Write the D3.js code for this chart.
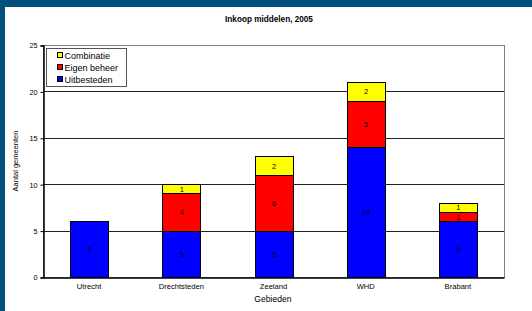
<!DOCTYPE html>
<html>
<head>
<meta charset="utf-8">
<script src="https://cdn.jsdelivr.net/npm/d3@7"></script>
<style>
  body { margin: 0; padding: 0; background: #ffffff; }
  svg { display: block; }
</style>
</head>
<body>
<script>
var width = 532;
var height = 311;

// data
var gebieden = ["Utrecht", "Drechtsteden", "Zeeland", "WHD", "Brabant"];
var uitbesteden = [6, 5, 5, 14, 6];
var eigenBeheer = [0, 4, 6, 5, 1];
var combinatie = [0, 1, 2, 2, 1];
var seriesNames = ["Uitbesteden", "Eigen beheer", "Combinatie"];
var seriesColors = ["#0000ff", "#ff0000", "#ffff00"];
var yTicks = [0, 5, 10, 15, 20, 25];

var font = "Liberation Sans, Arial, sans-serif";

var svg = d3.select("body").append("svg")
    .attr("width", width)
    .attr("height", height);

// frame
svg.append("rect")
    .attr("x", 0).attr("y", 0)
    .attr("width", width).attr("height", height)
    .attr("fill", "#02507e");
svg.append("rect")
    .attr("x", 5).attr("y", 7)
    .attr("width", width - 5).attr("height", height - 7)
    .attr("fill", "#ffffff");

var plotLeft = 43, plotRight = 504, plotTop = 45, plotBottom = 277;

var x = d3.scaleBand()
    .domain(gebieden)
    .range([plotLeft, plotRight])
    .paddingInner(0.59)
    .paddingOuter(0.295);

var y = d3.scaleLinear()
    .domain([0, 25])
    .range([plotBottom, plotTop]);

// title
svg.append("text")
    .attr("x", 269)
    .attr("y", 22)
    .attr("text-anchor", "middle")
    .attr("font-family", font)
    .attr("font-size", 8.2)
    .attr("font-weight", "bold")
    .attr("fill", "#000")
    .text("Inkoop middelen, 2005");

// plot border (top/right)
svg.append("rect")
    .attr("x", plotLeft + 0.5).attr("y", plotTop + 0.5)
    .attr("width", plotRight - plotLeft).attr("height", plotBottom - plotTop)
    .attr("fill", "none")
    .attr("stroke", "#808080")
    .attr("stroke-width", 1);

// gridlines
svg.append("g").selectAll("line")
    .data(yTicks.filter(function (d) { return d > 0 && d < 25; }))
    .enter().append("line")
    .attr("x1", plotLeft)
    .attr("x2", plotRight)
    .attr("y1", function (d) { return Math.round(y(d)) + 0.5; })
    .attr("y2", function (d) { return Math.round(y(d)) + 0.5; })
    .attr("stroke", "#222")
    .attr("stroke-width", 1);

// stacked bars
var rows = gebieden.map(function (g, i) {
    return { gebied: g, Uitbesteden: uitbesteden[i], "Eigen beheer": eigenBeheer[i], Combinatie: combinatie[i] };
});
var stack = d3.stack().keys(seriesNames)(rows);

var layers = svg.append("g").selectAll("g")
    .data(stack)
    .enter().append("g")
    .attr("fill", function (d, i) { return seriesColors[i]; });

layers.selectAll("rect")
    .data(function (d) { return d.filter(function (s) { return s[1] - s[0] > 0; }); })
    .enter().append("rect")
    .attr("x", function (d) { return Math.round(x(d.data.gebied)) + 0.5; })
    .attr("y", function (d) { return Math.round(y(d[1])) + 0.5; })
    .attr("width", Math.round(x.bandwidth()))
    .attr("height", function (d) { return Math.round(y(d[0])) - Math.round(y(d[1])); })
    .attr("stroke", "#000")
    .attr("stroke-width", 1);

layers.selectAll("text")
    .data(function (d) { return d.filter(function (s) { return s[1] - s[0] > 0; }); })
    .enter().append("text")
    .attr("x", function (d) { return x(d.data.gebied) + x.bandwidth() / 2 + 0.5; })
    .attr("y", function (d) { return (y(d[0]) + y(d[1])) / 2 + 3; })
    .attr("text-anchor", "middle")
    .attr("font-family", font)
    .attr("font-size", 7.5)
    .attr("fill", "#000")
    .text(function (d) { return d[1] - d[0]; });

// y axis
var yAxis = svg.append("g")
    .attr("transform", "translate(" + (plotLeft + 0.5) + ",0.5)")
    .call(d3.axisLeft(y).tickValues(yTicks).tickSize(3).tickPadding(3));
yAxis.select(".domain").attr("stroke", "#000").attr("stroke-width", 1.5);
yAxis.selectAll(".tick line").attr("stroke", "#000");
yAxis.selectAll("text")
    .attr("font-family", font)
    .attr("font-size", 7.3)
    .attr("fill", "#000");

// x axis
var xAxis = svg.append("g")
    .attr("transform", "translate(0," + (plotBottom + 0.5) + ")")
    .call(d3.axisBottom(x).tickSize(0).tickPadding(6));
xAxis.select(".domain").attr("stroke", "#000").attr("stroke-width", 1.5);
xAxis.selectAll("text")
    .attr("font-family", font)
    .attr("font-size", 7.6)
    .attr("fill", "#000");

// axis titles
svg.append("text")
    .attr("transform", "translate(18," + ((plotTop + plotBottom) / 2) + ") rotate(-90)")
    .attr("text-anchor", "middle")
    .attr("font-family", font)
    .attr("font-size", 7.5)
    .attr("fill", "#000")
    .text("Aantal gemeenten");

svg.append("text")
    .attr("x", 273)
    .attr("y", 302)
    .attr("text-anchor", "middle")
    .attr("font-family", font)
    .attr("font-size", 8.6)
    .attr("fill", "#000")
    .text("Gebieden");

// legend
var legend = svg.append("g");
legend.append("rect")
    .attr("x", 46.5).attr("y", 48.5)
    .attr("width", 80).attr("height", 38)
    .attr("fill", "#fff")
    .attr("stroke", "#555")
    .attr("stroke-width", 1);

var legendOrder = [2, 1, 0];
legendOrder.forEach(function (k, i) {
    legend.append("rect")
        .attr("x", 57.5)
        .attr("y", 52.5 + i * 12)
        .attr("width", 5).attr("height", 5)
        .attr("fill", seriesColors[k])
        .attr("stroke", "#000")
        .attr("stroke-width", 1);
    legend.append("text")
        .attr("x", 64.5)
        .attr("y", 58.5 + i * 12)
        .attr("font-family", font)
        .attr("font-size", 9)
        .attr("fill", "#000")
        .text(seriesNames[k]);
});
</script>
</body>
</html>
